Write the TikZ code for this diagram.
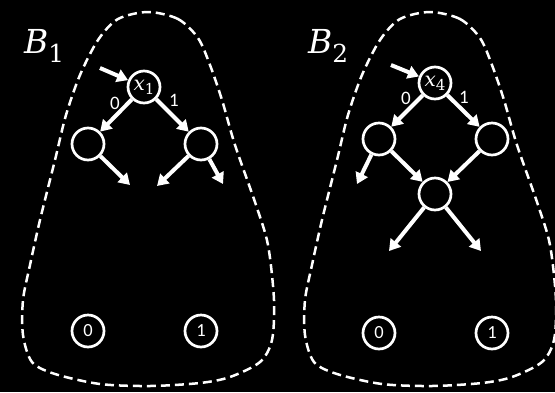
\documentclass[tikz,border=0pt]{standalone}
\usepackage{fontspec}
\setmainfont{Carlito}
\newfontfamily\mifont{DejaVu Serif}
\newcommand\varsub[4]{{\fontsize{#3}{#3}\selectfont\mifont\itshape #1}\raisebox{#4}{\fontsize{#3}{#3}\selectfont\mifont\fontsize{\dimexpr#3pt*3/4\relax}{#3}\selectfont #2}}
\usetikzlibrary{arrows.meta}
\begin{document}
\begin{tikzpicture}[x=1pt,y=-1pt,
  vert/.style={circle, draw=white, line width=2.7pt, minimum size=32pt, inner sep=0pt, text=white},
  leaf/.style={vert, font=\fontsize{18.5}{20}\selectfont},
  edge/.style={draw=white, line width=4pt, -{Triangle[length=11pt,width=13pt]}},
  lab/.style={text=white, font=\fontsize{19}{20}\selectfont, inner sep=0pt},
  blob/.style={draw=white, line width=2.5pt, dash pattern=on 9pt off 5pt},
  ttl/.style={text=white, inner sep=0pt}]
\fill[black] (0,0) rectangle (555,392);
\useasboundingbox (0,0) rectangle (555,392);
\foreach \dx in {0,282}{
  \draw[blob, shift={(\dx,0)}] plot[smooth cycle] coordinates {(148,12) (178,19) (198,38) (210,65) (222,100) (235,145) (256,205) (268,245) (274,300) (272,340) (260,362) (230,377) (200,383) (150,386) (100,384) (55,374) (32,362) (23,335) (23,300) (30,265) (40,220) (55,160) (66,115) (80,75) (98,40) (118,19)};
}
% titles
\node[ttl, anchor=base west] (t1) at (24,53) {\varsub{B}{1}{33}{-9pt}};
\node[ttl, anchor=base west] (t2) at (308,53) {\varsub{B}{2}{33}{-9pt}};
% B1
\node[vert] (x1) at (144,87) {\varsub{x}{1}{20}{-4pt}};
\node[vert] (l1) at (88,144) {};
\node[vert] (r1) at (201,144) {};
\node[leaf] (z1) at (88,331) {0};
\node[leaf] (o1) at (201,331) {1};
\coordinate (i1) at (100,68);
\coordinate (e1) at (130,185);
\coordinate (e2) at (157,186);
\coordinate (e3) at (223,184);
\draw[edge] (i1) -- (x1);
\draw[edge] (x1) -- (l1);
\draw[edge] (x1) -- (r1);
\draw[edge] (l1) -- (e1);
\draw[edge] (r1) -- (e2);
\draw[edge] (r1) -- (e3);
\node[lab] (a0) at (115,103) {0};
\node[lab] (a1) at (174,100) {1};
% B2
\node[vert] (x4) at (435,83) {\varsub{x}{4}{20}{-4pt}};
\node[vert] (l2) at (379,139) {};
\node[vert] (r2) at (492,139) {};
\node[vert] (m2) at (435,194) {};
\node[leaf] (z2) at (379,333) {0};
\node[leaf] (o2) at (492,333) {1};
\coordinate (i2) at (391,65);
\coordinate (f1) at (357,184);
\coordinate (f2) at (389,251);
\coordinate (f3) at (481,251);
\draw[edge] (i2) -- (x4);
\draw[edge] (x4) -- (l2);
\draw[edge] (x4) -- (r2);
\draw[edge] (l2) -- (f1);
\draw[edge] (l2) -- (m2);
\draw[edge] (r2) -- (m2);
\draw[edge] (m2) -- (f2);
\draw[edge] (m2) -- (f3);
\node[lab] (b0) at (406,98) {0};
\node[lab] (b1) at (464,97) {1};
\end{tikzpicture}
\end{document}
